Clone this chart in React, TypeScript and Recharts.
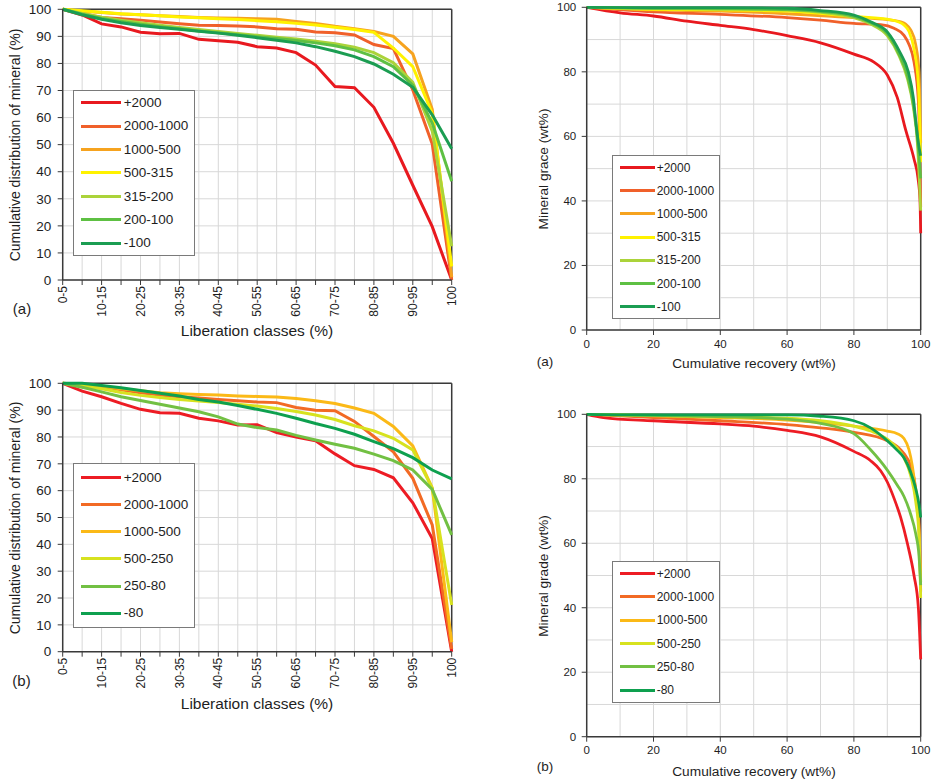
import React from 'react';
import { LineChart, Line, XAxis, YAxis, CartesianGrid, ReferenceLine } from 'recharts';

const FONT = '"Liberation Sans", Arial, Helvetica, sans-serif';
const AXIS = '#3a3a3a';
const GRID = '#d8d8d8';
const TXT = '#1e1e1e';

// ---------- categories & ticks ----------
const libClasses = ['0-5', '5-10', '10-15', '15-20', '20-25', '25-30', '30-35', '35-40', '40-45', '45-50', '50-55', '55-60', '60-65', '65-70', '70-75', '75-80', '80-85', '85-90', '90-95', '95-100', '100'];
const distTicks = [0, 10, 20, 30, 40, 50, 60, 70, 80, 90, 100];
const recTicks = [0, 10, 20, 30, 40, 50, 60, 70, 80, 90, 100];

const namesA = ['+2000', '2000-1000', '1000-500', '500-315', '315-200', '200-100', '-100'];
const namesB = ['+2000', '2000-1000', '1000-500', '500-250', '250-80', '-80'];
const coloursA = ['#e8191f', '#f0602a', '#f6a31f', '#fff200', '#abd33a', '#5ec043', '#1b9d52'];
const coloursB = ['#ed1c24', '#f26a24', '#fbb917', '#d7e21f', '#72c043', '#0ea04f'];

// ---------- (a) cumulative distribution by liberation class ----------
const distA_p2000 = [100, 97.9, 94.6, 93.5, 91.5, 91, 91.1, 88.9, 88.4, 87.8, 86.2, 85.7, 84, 79.4, 71.5, 71, 63.8, 50.5, 35, 19.7, 0];
const distA_2000_1000 = [100, 98.5, 97, 96.5, 96, 95.3, 94.7, 94.1, 94, 93.8, 93.5, 92.8, 92.6, 91.6, 91.3, 90.5, 87, 85.5, 70.2, 50.2, 0];
const distA_1000_500 = [100, 99.3, 98.8, 98.3, 98, 97.6, 97.3, 97, 96.8, 96.7, 96.5, 96.3, 95.5, 94.8, 93.7, 92.8, 91.8, 90, 83.5, 63, 1];
const distA_500_315 = [100, 99.5, 98.9, 98.4, 98, 97.6, 97.2, 96.9, 96.5, 96.2, 95.8, 95.4, 94.8, 94.2, 93.4, 92.5, 91.5, 85.7, 78.8, 61.5, 5];
const distA_315_200 = [100, 98.5, 97.1, 96, 95, 94.1, 93.3, 92.5, 91.8, 91.1, 90.4, 89.7, 89, 88.2, 87.3, 86, 84, 80.3, 73, 55, 12.5];
const distA_200_100 = [100, 98.2, 96.6, 95.5, 94.5, 93.6, 92.8, 92, 91.3, 90.6, 89.9, 89.2, 88.5, 87.6, 86.5, 85, 82.5, 78.8, 72, 58, 36.5];
const distA_m100 = [100, 98, 96.3, 95, 94, 93.3, 92.6, 91.9, 91.2, 90.4, 89.5, 88.6, 87.6, 86.2, 84.5, 82.5, 79.8, 76, 71.2, 61, 48.5];

// ---------- (b) cumulative distribution by liberation class ----------
const distB_p2000 = [100, 97.1, 95, 92.5, 90.3, 89, 88.8, 87, 86, 84.5, 84.6, 81.6, 80, 78.6, 73.7, 69.3, 67.9, 64.8, 55.5, 42.2, 0];
const distB_2000_1000 = [100, 99.5, 98.8, 97.6, 96.5, 95.6, 95, 94.5, 94, 93.5, 93, 92.8, 91, 90, 89.8, 85.8, 80.2, 74.5, 64.6, 47.2, 1];
const distB_1000_500 = [100, 99.6, 99, 98, 97.2, 96.5, 96.1, 95.8, 95.6, 95.3, 95.1, 94.9, 94.3, 93.5, 92.5, 90.8, 88.8, 83.9, 76.7, 61, 3.5];
const distB_500_250 = [100, 99, 98, 96.6, 95.5, 94.7, 94, 93.4, 92.8, 92.2, 91.5, 90.6, 89.5, 88.2, 86.5, 84.2, 82.3, 79.5, 75.2, 60.9, 17.4];
const distB_250_80 = [100, 98.5, 96.8, 95, 93.6, 92.2, 90.8, 89.4, 87.5, 84.8, 83.5, 82.6, 80.6, 78.9, 77.3, 75.8, 73.6, 71.2, 67.7, 60.5, 43.5];
const distB_m80 = [100, 100, 99.2, 98.3, 97.3, 96.3, 95.3, 94, 93, 91.7, 90.3, 88.8, 87, 85, 83.2, 81, 78.3, 75.7, 72.3, 67.7, 64.4];

// ---------- (a) grade vs cumulative recovery ----------
const recA_p2000_x = [0, 10, 20, 30, 40, 50, 60, 70, 80, 86, 90, 93, 95.5, 98, 99.2, 99.8, 100];
const recA_p2000_y = [100, 98.3, 97.3, 95.7, 94.4, 93.1, 91.2, 89, 85.5, 83, 79, 72, 62, 53, 47, 40, 30];
const recA_2000_1000_x = [0, 20, 40, 60, 70, 80, 88, 92, 95, 96.5, 98, 99.3, 100];
const recA_2000_1000_y = [100, 98.6, 97.8, 96.8, 96, 95, 94.6, 93.5, 91.3, 88.5, 83, 71, 38];
const recA_1000_500_x = [0, 20, 40, 60, 80, 90, 94, 95.5, 97, 98.5, 99.5, 100];
const recA_1000_500_y = [100, 99.2, 98.8, 98, 96.8, 96.2, 95.5, 94.8, 93, 88.5, 80, 58];
const recA_500_315_x = [0, 20, 40, 60, 80, 90, 93, 95, 96.5, 98, 99.3, 100];
const recA_500_315_y = [100, 99.4, 99.2, 98.8, 97.2, 96.3, 95.6, 94.5, 92.5, 87, 76, 52];
const recA_315_200_x = [0, 20, 40, 60, 70, 80, 85, 90, 93.5, 96, 97.8, 99, 100];
const recA_315_200_y = [100, 99.6, 99.4, 99.1, 98.4, 96.8, 94.8, 91.2, 85, 78, 69, 58, 37];
const recA_200_100_x = [0, 20, 40, 60, 70, 80, 85, 90, 93.5, 96, 97.8, 99, 100];
const recA_200_100_y = [100, 99.7, 99.6, 99.3, 98.7, 97.2, 95.2, 91.8, 85.5, 79, 70, 60, 47];
const recA_m100_x = [0, 20, 40, 60, 70, 80, 85, 90, 93.8, 96.3, 97.8, 98.8, 99.8, 100];
const recA_m100_y = [100, 99.9, 99.9, 99.7, 99, 97.6, 95.5, 92.4, 86, 80, 72, 62, 55, 54];

// ---------- (b) grade vs cumulative recovery ----------
const recB_p2000_x = [0, 5, 20, 40, 50, 60, 70, 80, 85, 88, 90, 92, 94, 96, 98, 99.3, 100];
const recB_p2000_y = [100, 99, 98, 97, 96.3, 95, 93, 88.5, 85.6, 82.5, 79, 74, 68, 60, 50, 40, 24];
const recB_2000_1000_x = [0, 20, 40, 60, 70, 80, 90, 93, 95, 97, 98.5, 99.5, 100];
const recB_2000_1000_y = [100, 99, 98, 96.8, 95.8, 94.4, 91.8, 90, 87.8, 84, 77, 66, 45];
const recB_1000_500_x = [0, 20, 40, 60, 80, 90, 93, 95, 96.5, 97.5, 98.5, 99.5, 100];
const recB_1000_500_y = [100, 99.5, 99, 98.2, 96.3, 94.8, 94, 92.5, 89, 84, 76, 64, 48];
const recB_500_250_x = [0, 20, 40, 60, 70, 80, 85, 90, 93, 95, 97, 98.5, 99.5, 100];
const recB_500_250_y = [100, 99.6, 99.3, 98.8, 98, 96.3, 94.8, 92.3, 89.5, 86.5, 81, 73, 62, 43];
const recB_250_80_x = [0, 20, 40, 60, 70, 80, 85, 90, 93, 95, 97, 98.5, 99.5, 100];
const recB_250_80_y = [100, 99.7, 99.3, 98.5, 97.2, 94, 89, 82.7, 78, 74.5, 69, 63, 56, 47];
const recB_m80_x = [0, 20, 40, 60, 70, 80, 85, 90, 93, 95, 97, 98.5, 99.5, 100];
const recB_m80_y = [100, 99.8, 99.8, 99.8, 99.4, 98, 95.8, 91.8, 88.8, 86.5, 82, 77, 72, 68];

const distA = [distA_p2000, distA_2000_1000, distA_1000_500, distA_500_315, distA_315_200, distA_200_100, distA_m100];
const distB = [distB_p2000, distB_2000_1000, distB_1000_500, distB_500_250, distB_250_80, distB_m80];
const recA = [
  [recA_p2000_x, recA_p2000_y], [recA_2000_1000_x, recA_2000_1000_y], [recA_1000_500_x, recA_1000_500_y],
  [recA_500_315_x, recA_500_315_y], [recA_315_200_x, recA_315_200_y], [recA_200_100_x, recA_200_100_y], [recA_m100_x, recA_m100_y],
];
const recB = [
  [recB_p2000_x, recB_p2000_y], [recB_2000_1000_x, recB_2000_1000_y], [recB_1000_500_x, recB_1000_500_y],
  [recB_500_250_x, recB_500_250_y], [recB_250_80_x, recB_250_80_y], [recB_m80_x, recB_m80_y],
];

const buildDistTable = (series: number[][]) =>
  libClasses.map((c, i) => {
    const row: any = { cls: c };
    series.forEach((s, k) => { row['s' + k] = s[i]; });
    return row;
  });
const buildPts = (xs: number[], ys: number[]) => xs.map((x, i) => ({ x, y: ys[i] }));

// ---------- ticks ----------
const CatTick = (props: any) => {
  const { x, y, payload } = props;
  const idx = libClasses.indexOf(payload.value);
  const ty = y + 6;
  return (
    <g>
      <line x1={x} y1={y} x2={x} y2={y + 5} stroke={AXIS} strokeWidth={1} />
      {idx % 2 === 0 && (
        <text x={x} y={ty} dy="0.35em" transform={`rotate(-90 ${x} ${ty})`} textAnchor="end" fontSize={12} fill={TXT} fontFamily={FONT}>
          {payload.value}
        </text>
      )}
    </g>
  );
};
const DistYTick = (props: any) => {
  const { x, y, payload } = props;
  return (
    <g>
      <line x1={x - 5} y1={y} x2={x} y2={y} stroke={AXIS} strokeWidth={1} />
      <text x={x - 11.5} y={y} dy="0.35em" textAnchor="end" fontSize={13.5} fill={TXT} fontFamily={FONT}>{payload.value}</text>
    </g>
  );
};
const RecXTick = (props: any) => {
  const { x, y, payload } = props;
  if (payload.value % 20 !== 0) return <g />;
  return (
    <g>
      <line x1={x} y1={y} x2={x} y2={y + 5} stroke={AXIS} strokeWidth={1} />
      <text x={x} y={y + 13.5} dy="0.35em" textAnchor="middle" fontSize={11.5} fill={TXT} fontFamily={FONT}>{payload.value}</text>
    </g>
  );
};
const RecYTick = (props: any) => {
  const { x, y, payload } = props;
  if (payload.value % 20 !== 0) return <g />;
  return (
    <g>
      <line x1={x - 5} y1={y} x2={x} y2={y} stroke={AXIS} strokeWidth={1} />
      <text x={x - 10.5} y={y} dy="0.35em" textAnchor="end" fontSize={11.5} fill={TXT} fontFamily={FONT}>{payload.value}</text>
    </g>
  );
};

// ---------- small text helpers ----------
const Title = ({ cx, cy, text, size, rotate }: { cx: number; cy: number; text: string; size: number; rotate?: boolean }) => (
  <div
    style={{
      position: 'absolute', left: cx, top: cy, transform: `translate(-50%, -50%)${rotate ? ' rotate(-90deg)' : ''}`,
      whiteSpace: 'nowrap', fontSize: size, fontFamily: FONT, color: TXT, lineHeight: 1,
    }}
  >
    {text}
  </div>
);

const LegendBox = ({ left, top, width, rowH, padTop, names, colours, size, lineW, gap }: any) => (
  <div
    style={{
      position: 'absolute', left, top, width, boxSizing: 'border-box', border: '1px solid #7a7a7a', background: '#fff',
      paddingTop: padTop, fontFamily: FONT, fontSize: size, color: TXT,
    }}
  >
    {names.map((n: string, i: number) => (
      <div key={n} style={{ height: rowH, display: 'flex', alignItems: 'center', paddingLeft: 7 }}>
        <div style={{ width: lineW, height: 3, background: colours[i], marginRight: gap }} />
        <span style={{ lineHeight: 1 }}>{n}</span>
      </div>
    ))}
  </div>
);

// ---------- panels ----------
const DistPanel = ({ top, plotTop, plotBottom, series, names, colours }: any) => {
  const H = 345;
  const data = buildDistTable(series);
  return (
    <div style={{ position: 'absolute', left: 0, top, width: 470, height: H }}>
      <LineChart width={470} height={H} data={data} margin={{ top: plotTop, right: 18.3, bottom: H - plotBottom - 60, left: 0 }}>
        <CartesianGrid stroke={GRID} strokeWidth={1} />
        <XAxis dataKey="cls" type="category" interval={0} height={60} tickSize={0} tickMargin={0} tickLine={false}
          tick={<CatTick />} axisLine={{ stroke: AXIS, strokeWidth: 1.5 }} />
        <YAxis type="number" domain={[0, 100]} ticks={distTicks} interval={0} width={62.7} tickSize={0} tickMargin={0}
          tickLine={false} tick={<DistYTick />} axisLine={{ stroke: AXIS, strokeWidth: 1.5 }} />
        <ReferenceLine y={100} stroke={AXIS} strokeWidth={1.5} />
        <ReferenceLine x="100" stroke={AXIS} strokeWidth={1.5} />
        {series.map((_: number[], k: number) => (
          <Line key={k} type="linear" dataKey={'s' + k} name={names[k]} stroke={colours[k]} strokeWidth={3}
            dot={false} activeDot={false} isAnimationActive={false} />
        ))}
      </LineChart>
    </div>
  );
};

const RecPanel = ({ top, H, plotTop, plotBottom, series, names, colours }: any) => (
  <div style={{ position: 'absolute', left: 470, top, width: 462, height: H }}>
    <LineChart width={462} height={H} margin={{ top: plotTop, right: 11.3, bottom: H - plotBottom - 30, left: 0 }}>
      <CartesianGrid stroke={GRID} strokeWidth={1} />
      <XAxis dataKey="x" type="number" domain={[0, 100]} ticks={recTicks} interval={0} height={30} tickSize={0} tickMargin={0}
        tickLine={false} tick={<RecXTick />} axisLine={{ stroke: AXIS, strokeWidth: 1.5 }} allowDuplicatedCategory={false} />
      <YAxis type="number" domain={[0, 100]} ticks={recTicks} interval={0} width={116.7} tickSize={0} tickMargin={0}
        tickLine={false} tick={<RecYTick />} axisLine={{ stroke: AXIS, strokeWidth: 1.5 }} />
      <ReferenceLine y={100} stroke={AXIS} strokeWidth={1.5} />
      <ReferenceLine x={100} stroke={AXIS} strokeWidth={1.5} />
      {series.map((s: number[][], k: number) => (
        <Line key={k} data={buildPts(s[0], s[1])} type="monotone" dataKey="y" name={names[k]} stroke={colours[k]}
          strokeWidth={2.8} dot={false} activeDot={false} isAnimationActive={false} />
      ))}
    </LineChart>
  </div>
);

export default function App() {
  return (
    <div style={{ position: 'absolute', left: 0, top: 0, width: 932, height: 782, background: '#fff', overflow: 'hidden', fontFamily: FONT }}>
      {/* top-left */}
      <DistPanel top={0} plotTop={9.3} plotBottom={280} series={distA} names={namesA} colours={coloursA} />
      <Title cx={15} cy={144.7} text="Cumulative distribution of mineral (%)" size={14} rotate />
      <Title cx={257} cy={331} text="Liberation classes (%)" size={15.5} />
      <Title cx={22} cy={308} text="(a)" size={15} />
      <LegendBox left={72.7} top={90} width={122.6} rowH={23.4} padTop={0} names={namesA} colours={coloursA} size={13.5} lineW={40} gap={3} />

      {/* bottom-left */}
      <DistPanel top={370} plotTop={13.3} plotBottom={281.7} series={distB} names={namesB} colours={coloursB} />
      <Title cx={15} cy={517.5} text="Cumulative distribution of mineral (%)" size={14} rotate />
      <Title cx={257} cy={704.3} text="Liberation classes (%)" size={15.5} />
      <Title cx={21.5} cy={680} text="(b)" size={15} />
      <LegendBox left={72.7} top={462.7} width={122.6} rowH={27.2} padTop={0} names={namesB} colours={coloursB} size={13.5} lineW={40} gap={3} />

      {/* top-right */}
      <RecPanel top={0} H={380} plotTop={7.3} plotBottom={330} series={recA} names={namesA} colours={coloursA} />
      <Title cx={544} cy={168.7} text="Mineral grace (wt%)" size={13.6} rotate />
      <Title cx={754} cy={364.3} text="Cumulative recovery (wt%)" size={13.7} />
      <Title cx={545} cy={361.7} text="(a)" size={13.5} />
      <LegendBox left={611.7} top={155} width={108.3} rowH={23.2} padTop={0} names={namesA} colours={coloursA} size={12} lineW={35} gap={2} />

      {/* bottom-right */}
      <RecPanel top={370} H={412} plotTop={44.3} plotBottom={366.7} series={recB} names={namesB} colours={coloursB} />
      <Title cx={544} cy={575.5} text="Mineral grade (wt%)" size={13.6} rotate />
      <Title cx={754} cy={771.7} text="Cumulative recovery (wt%)" size={13.7} />
      <Title cx={545} cy={766.7} text="(b)" size={13.5} />
      <LegendBox left={611.7} top={561} width={108.3} rowH={23.3} padTop={0} names={namesB} colours={coloursB} size={12} lineW={35} gap={2} />
    </div>
  );
}
